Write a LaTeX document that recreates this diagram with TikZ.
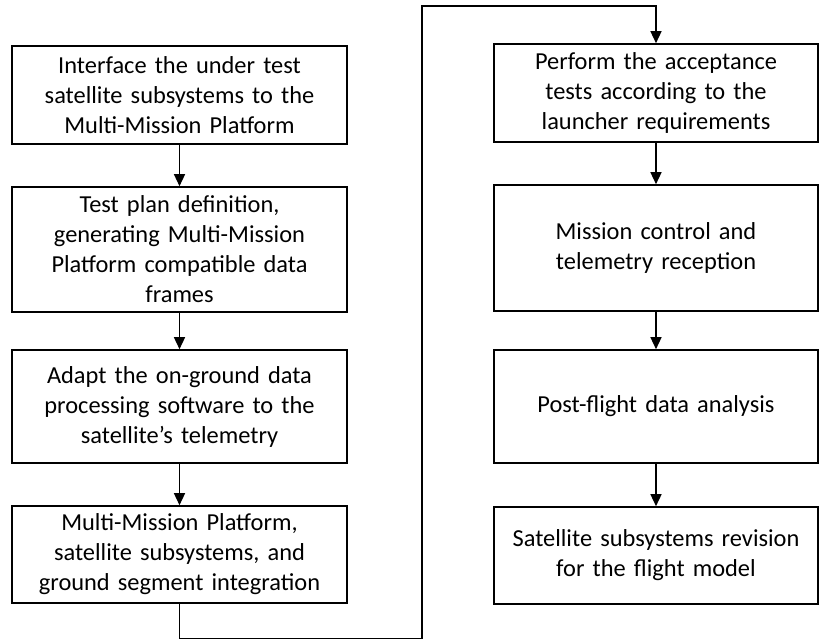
\documentclass[tikz,border=0pt]{standalone}
\usepackage{fontspec}
\setmainfont{Carlito}
\usetikzlibrary{arrows.meta}
\begin{document}
\begin{tikzpicture}[x=1pt,y=-1pt,
    every text node part/.style={align=center},
    stepbox/.style={draw,line width=1.6pt,inner sep=0pt,minimum width=335pt,
      text width=325pt,font=\fontsize{24.4}{30}\selectfont},
    rightbox/.style={stepbox,minimum width=324pt,text width=316pt},
    flow/.style={line width=1.4pt,-{Triangle[length=12pt,width=11pt]}}]

    \useasboundingbox (0,0) rectangle (819,640);

    % left column
    \node[stepbox,minimum height=98pt]  (Interface) at (179.5,95)    {Interface the under test\\satellite subsystems to the\\Multi-Mission Platform};
    \node[stepbox,minimum height=125pt] (TestPlan)  at (179.5,249.5) {Test plan definition,\\generating Multi-Mission\\Platform compatible data\\frames};
    \node[stepbox,minimum height=113pt] (Adapt)     at (179.5,406.5) {Adapt the on-ground data\\processing software to the\\satellite’s telemetry};
    \node[stepbox,minimum height=97pt]  (Integr)    at (179.5,554.5) {Multi-Mission Platform,\\satellite subsystems, and\\ground segment integration};

    % right column
    \node[rightbox,minimum height=98pt]  (Accept)   at (656,93)    {Perform the acceptance\\tests according to the\\launcher requirements};
    \node[rightbox,minimum height=126pt] (Control)  at (656,248)   {Mission control and\\telemetry reception};
    \node[rightbox,minimum height=113pt] (PostFl)   at (656,406.5) {Post-flight data analysis};
    \node[rightbox,minimum height=97pt]  (Revision) at (656,555.5) {Satellite subsystems revision\\for the flight model};

    \coordinate (LowTurn)  at (179.5,638.5);
    \coordinate (MidLow)   at (422,638.5);
    \coordinate (MidHigh)  at (422,6);
    \coordinate (HighTurn) at (656,6);

    \draw[flow] (Interface.south) -- (TestPlan.north);
    \draw[flow] (TestPlan.south)  -- (Adapt.north);
    \draw[flow] (Adapt.south)     -- (Integr.north);
    \draw[flow] (Integr.south) -- (LowTurn) -- (MidLow) -- (MidHigh) -- (HighTurn) -- (Accept.north);
    \draw[flow] (Accept.south)    -- (Control.north);
    \draw[flow] (Control.south)   -- (PostFl.north);
    \draw[flow] (PostFl.south)    -- (Revision.north);
  \end{tikzpicture}
\end{document}
